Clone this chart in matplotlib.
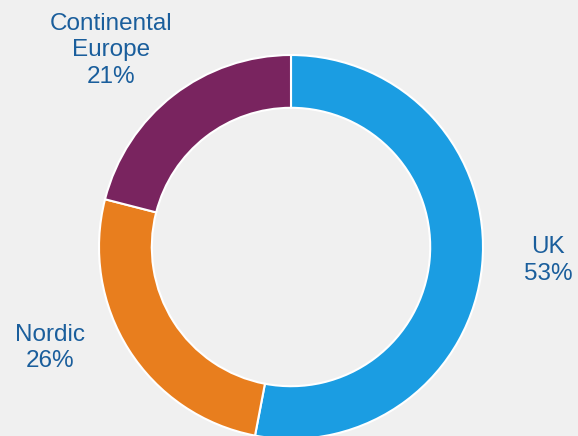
import matplotlib
matplotlib.use("Agg")
import matplotlib.pyplot as plt

categories = ["UK", "Nordic", "Continental\nEurope"]
shares = [53, 26, 21]
colors = ["#1b9de2", "#e87e1e", "#79245f"]
label_pos_px = [(548, 260.5), (50, 348), (111, 50.5)]

W, H = 578, 436
cx, cy, R = 291, 247.0, 192.0

fig = plt.figure(figsize=(W / 100, H / 100), dpi=100)
fig.patch.set_facecolor("#f0f0f0")
ax = fig.add_axes([0, 0, 1, 1])
ax.set_facecolor("#f0f0f0")

ax.pie(shares, colors=colors, startangle=90, counterclock=False,
       radius=1.0,
       wedgeprops=dict(width=0.275, edgecolor="white", linewidth=1.5))

for cat, val, (px, py) in zip(categories, shares, label_pos_px):
    ax.text((px - cx) / R, (cy - py) / R, f"{cat}\n{val}%",
            ha="center", va="center", fontsize=17.5, color="#1a5e9c",
            family="Liberation Sans", linespacing=1.27)

ax.set_xlim(-cx / R, (W - cx) / R)
ax.set_ylim(-(H - cy) / R, cy / R)
ax.set_aspect("auto")
ax.axis("off")

fig.savefig("out.png", dpi=100, facecolor=fig.get_facecolor())
